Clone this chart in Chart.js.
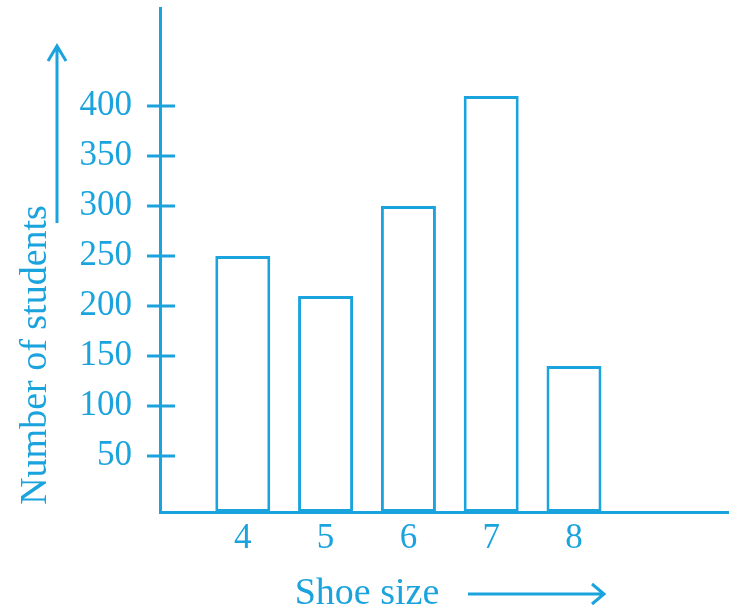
<!DOCTYPE html>
<html>
<head>
<meta charset="utf-8">
<script src="https://cdn.jsdelivr.net/npm/chart.js@4"></script>
<style>
  html, body { margin: 0; padding: 0; background: #fff; }
  #wrap { width: 745px; height: 609px; position: relative; }
</style>
</head>
<body>
<div id="wrap"><canvas id="chart"></canvas></div>
<script>
// data
var shoeSizes = [4, 5, 6, 7, 8];
var students = [250, 210, 300, 410, 140];
var yTicks = [50, 100, 150, 200, 250, 300, 350, 400];

var blue = "#1ba3dd";
var serif = '"Liberation Serif", "Times New Roman", serif';

// ticks crossing the y axis, plus the two axis titles with their arrows
var decor = {
  id: "decor",
  afterDraw: function(chart) {
    var ctx = chart.ctx;
    var y = chart.scales.y;
    var left = chart.chartArea.left;
    ctx.save();
    ctx.strokeStyle = blue;
    ctx.fillStyle = blue;
    ctx.lineWidth = 3;
    yTicks.forEach(function(v) {
      var py = y.getPixelForValue(v);
      ctx.beginPath();
      ctx.moveTo(left - 13, py);
      ctx.lineTo(left + 15, py);
      ctx.stroke();
    });

    ctx.font = "38px " + serif;
    ctx.textAlign = "center";
    ctx.textBaseline = "alphabetic";
    ctx.fillText("Shoe size", 367, 604);

    ctx.save();
    ctx.translate(46, 355);
    ctx.rotate(-Math.PI / 2);
    ctx.fillText("Number of students", 0, 0);
    ctx.restore();

    // up arrow
    ctx.beginPath();
    ctx.moveTo(57, 223); ctx.lineTo(57, 46);
    ctx.moveTo(48, 61); ctx.lineTo(57, 46); ctx.lineTo(66, 61);
    ctx.stroke();
    // right arrow
    ctx.beginPath();
    ctx.moveTo(468, 594); ctx.lineTo(604, 594);
    ctx.moveTo(592, 584); ctx.lineTo(604, 594); ctx.lineTo(592, 604);
    ctx.stroke();
    ctx.restore();
  }
};

new Chart(document.getElementById("chart"), {
  type: "bar",
  data: {
    datasets: [{
      label: "Number of students",
      data: shoeSizes.map(function(s, i) { return { x: s, y: students[i] }; }),
      backgroundColor: "#fff",
      borderColor: blue,
      borderWidth: 3,
      borderSkipped: false,
      base: -6,
      categoryPercentage: 0.8,
      barPercentage: 0.83
    }]
  },
  options: {
    responsive: true,
    maintainAspectRatio: false,
    animation: false,
    layout: { padding: { top: 8, right: 17, left: 0, bottom: 0 } },
    plugins: { legend: { display: false }, tooltip: { enabled: false } },
    scales: {
      x: {
        type: "linear",
        min: 3,
        max: 9.86,
        offset: false,
        grid: { display: false, drawTicks: false },
        border: { color: blue, width: 3 },
        ticks: {
          stepSize: 1,
          padding: 6,
          color: blue,
          font: { family: serif, size: 35 },
          callback: function(v) { return shoeSizes.indexOf(v) >= 0 ? String(v) : ""; }
        },
        afterFit: function(s) {
          s.height = 97;
          s.paddingLeft = 0; s.paddingRight = 0;
        }
      },
      y: {
        min: -6,
        max: 498,
        grid: { display: false, drawTicks: false },
        border: { color: blue, width: 3 },
        ticks: {
          stepSize: 50,
          padding: 28,
          color: blue,
          font: { family: serif, size: 35 },
          callback: function(v) { return yTicks.indexOf(v) >= 0 ? String(v) : ""; }
        },
        afterFit: function(s) {
          s.width = 160;
          s.paddingTop = 0; s.paddingBottom = 0;
        }
      }
    }
  },
  plugins: [decor]
});
</script>
</body>
</html>
